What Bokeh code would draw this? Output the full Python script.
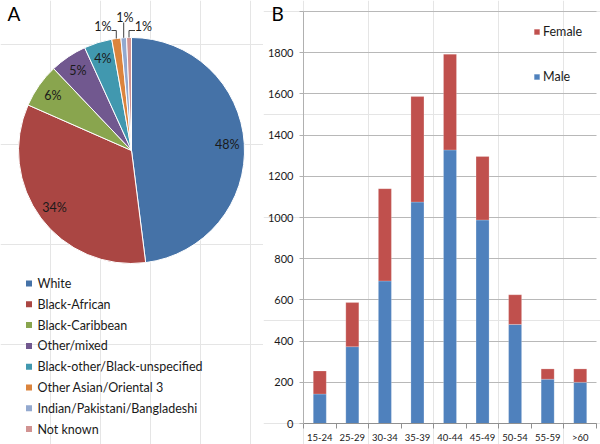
import math
from bokeh.plotting import figure
from bokeh.layouts import row
from bokeh.models import (Range1d, FixedTicker, Label, Legend, LegendItem, LinearAxis, Grid,
                          ColumnDataSource)
from bokeh.core.properties import value
from bokeh.embed import file_html
from bokeh.resources import INLINE

# ---------------- data ----------------
groups = ["White", "Black-African", "Black-Caribbean", "Other/mixed",
          "Black-other/Black-unspecified", "Other Asian/Oriental 3",
          "Indian/Pakistani/Bangladeshi", "Not known"]
shares = [48.0, 33.6, 6.3, 5.3, 4.0, 1.3, 0.8, 0.7]
pie_colors = ["#4572A7", "#AA4643", "#89A54E", "#71588F",
              "#4198AF", "#DB843D", "#93A9CF", "#D19392"]

ages = ["15-24", "25-29", "30-34", "35-39", "40-44", "45-49", "50-54", "55-59", ">60"]
male = [143, 373, 692, 1075, 1328, 988, 481, 215, 200]
female = [112, 214, 448, 512, 465, 308, 144, 50, 65]
y_ticks = [0, 200, 400, 600, 800, 1000, 1200, 1400, 1600, 1800, 2000]
Y_MAX = 2000

FONT = "Lato"
TXT = "#1a1a1a"

# ---------------- layout (pixels) ----------------
PAGE_W, PAGE_H = 600, 444
W1 = 263
W2 = PAGE_W - W1
H = PAGE_H

def Y(py):  # picture pixel y (down) -> data y (up)
    return PAGE_H - py

# ---------------- pie panel ----------------
pie = figure(width=W1, height=H, x_range=Range1d(0, W1), y_range=Range1d(0, PAGE_H),
             output_backend="svg", toolbar_location=None, min_border=0,
             x_axis_location=None, y_axis_location=None)
pie.outline_line_color = None

cx, cy, R = 131, Y(150), 113
total = sum(shares)
starts, ends, mids = [], [], []
cum = 0.0
for s in shares:
    a0 = math.pi / 2 - 2 * math.pi * cum / total
    cum += s
    a1 = math.pi / 2 - 2 * math.pi * cum / total
    starts.append(a0); ends.append(a1); mids.append((a0 + a1) / 2)

wsrc = ColumnDataSource(dict(start=starts, end=ends, color=pie_colors))
pie.wedge(x=cx, y=cy, radius=R, start_angle="start", end_angle="end", direction="clock",
          fill_color="color", line_color="white", line_width=1, source=wsrc)

# inside labels
in_x, in_y, in_t = [], [], []
for s, m in zip(shares, mids):
    if s >= 3:
        r = 96
        in_x.append(cx + r * math.cos(m)); in_y.append(cy + r * math.sin(m))
        in_t.append("%d%%" % round(s))
pie.text(x=in_x, y=in_y, text=in_t, text_font=value(FONT), text_font_size="12.5px",
         text_align="center", text_baseline="middle", text_color=TXT)

# outer labels for small slices (offsets are layout, in px relative to centre)
small = [i for i, s in enumerate(shares) if s < 3]
label_off = [(-28.5, -124), (-6.5, -133), (12, -124)]
lx, ly, lt, lxs, lys = [], [], [], [], []
for k, i in enumerate(small):
    dx, dy = label_off[k]
    tx, ty = cx + dx, cy - dy
    lx.append(tx); ly.append(ty); lt.append("%d%%" % max(1, round(shares[i])))
    ax, ay = cx + R * math.cos(mids[i]), cy + R * math.sin(mids[i])
    if k == 0:
        ey = ty - 4
        lxs.append([ax, ax, tx + 8.5]); lys.append([ay, ey, ey])
    elif k == 1:
        lxs.append([ax, ax]); lys.append([ay, ty - 5])
    else:
        ey = ty - 4
        lxs.append([ax, ax, tx - 8.5]); lys.append([ay, ey, ey])
pie.multi_line(xs=lxs, ys=lys, line_color="#404040", line_width=1)
pie.text(x=lx, y=ly, text=lt, text_font=value(FONT), text_font_size="12.5px",
         text_align="center", text_baseline="middle", text_color=TXT)

# legend
n = len(groups)
leg_y = [Y(283 + i * 20.8) for i in range(n)]
pie.rect(x=[28.5] * n, y=leg_y, width=6, height=6, fill_color=pie_colors, line_color=None)
pie.text(x=[37] * n, y=leg_y, text=groups, text_font=value(FONT), text_font_size="12.5px",
         text_align="left", text_baseline="middle", text_color=TXT)

pie.text(x=[7], y=[Y(13)], text=["A"], text_font=value(FONT), text_font_size="19px",
         text_align="left", text_baseline="middle", text_color="#000000")

# ---------------- bar panel ----------------
# frame = whole canvas; data area spans picture x 303..596, y 11..423
FX0, FX1, FY0, FY1 = 303 - W1, 596 - W1, 11, 423
nb = len(ages)
px_per_x = (FX1 - FX0) / nb
px_per_y = (FY1 - FY0) / Y_MAX
bar = figure(width=W2, height=H,
             x_range=Range1d(-FX0 / px_per_x, nb + (W2 - FX1) / px_per_x),
             y_range=Range1d(-(PAGE_H - FY1) / px_per_y, Y_MAX + FY0 / px_per_y),
             output_backend="svg", toolbar_location=None, min_border=0,
             x_axis_location=None, y_axis_location=None)
bar.outline_line_color = None

GRID_C = "#B8B8B8"
if "cross_bounds" in Grid.properties():
    bar.add_layout(Grid(dimension=1, ticker=FixedTicker(ticks=y_ticks), cross_bounds=(0, nb),
                        grid_line_color=GRID_C))
    tick_in = 0
else:
    tick_in = FX1 - FX0

xs = [i + 0.5 for i in range(nb)]
bsrc = ColumnDataSource(dict(x=xs, male=male, female=female))
rs = bar.vbar_stack(["male", "female"], x="x", width=0.4, color=["#4F81BD", "#C0504D"],
                    line_color="white", line_alpha=0.35, line_width=0.6, source=bsrc)

yaxis = LinearAxis(ticker=FixedTicker(ticks=y_ticks), fixed_location=0, bounds=(0, Y_MAX),
                   major_label_overrides={Y_MAX: ""},
                   major_tick_out=4, major_tick_in=tick_in, minor_tick_out=0, minor_tick_in=0,
                   axis_line_color="#B0B0B0", major_tick_line_color="#B0B0B0",
                   major_label_standoff=6, major_label_text_font=FONT,
                   major_label_text_font_size="11px", major_label_text_color=TXT)
if tick_in:
    yaxis.level = "underlay"
bar.add_layout(yaxis, "left")

xaxis = LinearAxis(ticker=FixedTicker(ticks=xs, minor_ticks=list(range(0, nb + 1))),
                   fixed_location=0, bounds=(0, nb),
                   major_label_overrides={x: a for x, a in zip(xs, ages)},
                   major_tick_out=0, major_tick_in=0, minor_tick_out=5, minor_tick_in=0,
                   minor_tick_line_color="#909090", axis_line_color="#909090",
                   major_label_standoff=3, major_label_text_font=FONT,
                   major_label_text_font_size="9.5px", major_label_text_color=TXT)
bar.add_layout(xaxis, "below")

legend = Legend(items=[LegendItem(label="Female", renderers=[rs[1]]),
                       LegendItem(label="Male", renderers=[rs[0]])],
                location=(533 - W1, PAGE_H - 84), orientation="vertical",
                padding=0, margin=0, spacing=30, glyph_width=7, glyph_height=7,
                label_height=14, label_standoff=3,
                label_text_font=FONT, label_text_font_size="12.5px", label_text_color=TXT,
                border_line_color=None, background_fill_alpha=0)
bar.add_layout(legend)

bar.add_layout(Label(x=271 - W1, y=PAGE_H - 12.5, x_units="screen", y_units="screen", text="B",
                     text_font=FONT, text_font_size="19px", text_baseline="middle",
                     text_color="#000000"))

layout = row(pie, bar)
open("out.html", "w").write(file_html(layout, INLINE))
